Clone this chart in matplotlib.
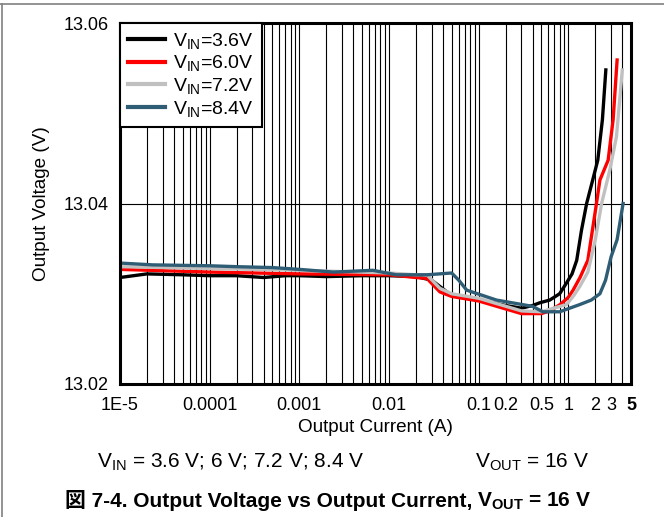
import matplotlib
matplotlib.use("Agg")
import matplotlib.pyplot as plt
from matplotlib.lines import Line2D
from matplotlib.ticker import LogLocator, NullFormatter

plt.rcParams["font.family"] = ["Liberation Sans", "Noto Sans CJK JP", "DejaVu Sans"]
plt.rcParams["mathtext.fontset"] = "custom"
plt.rcParams["mathtext.rm"] = "Liberation Sans"
plt.rcParams["mathtext.bf"] = "Liberation Sans:bold"

# values
i_36 = [1e-5, 2e-5, 5e-5, 1e-4, 2e-4, 4e-4, 7e-4, 1e-3, 2e-3, 5e-3, 0.01, 0.02, 0.03,
        0.05, 0.1, 0.2, 0.3, 0.4, 0.48, 0.62, 0.8, 0.955, 1.1, 1.24, 1.4, 1.6, 1.87,
        2.13, 2.4, 2.62]
v_36 = [13.0318, 13.0322, 13.0321, 13.0320, 13.0320, 13.0318, 13.0320, 13.0320, 13.0319,
        13.0320, 13.0320, 13.0319, 13.0315, 13.0298, 13.0293, 13.0287, 13.0284, 13.0287,
        13.0290, 13.0293, 13.0300, 13.0312, 13.0322, 13.0337, 13.0370, 13.0400, 13.0426,
        13.0448, 13.0493, 13.0548]

i_60 = [1e-5, 1e-4, 1e-3, 0.01, 0.02, 0.0265, 0.037, 0.05, 0.1, 0.16, 0.3, 0.5, 0.62,
        0.81, 1.0, 1.13, 1.35, 1.65, 2.06, 2.25, 2.78, 3.16, 3.5]
v_60 = [13.0327, 13.0324, 13.0322, 13.0321, 13.0318, 13.0317, 13.0302, 13.0297, 13.0292,
        13.0286, 13.0278, 13.0278, 13.0281, 13.0288, 13.0296, 13.0304, 13.0318, 13.0337,
        13.0400, 13.0426, 13.0448, 13.0493, 13.0559]

i_72 = [1e-5, 1e-4, 1e-3, 0.01, 0.02, 0.0265, 0.037, 0.05, 0.1, 0.16, 0.3, 0.5, 0.81,
        0.955, 1.15, 1.34, 1.65, 2.0, 2.35, 2.9, 3.44, 4.0]
v_72 = [13.0330, 13.0328, 13.0326, 13.0323, 13.0321, 13.0321, 13.0306, 13.0300, 13.0295,
        13.0289, 13.0281, 13.0280, 13.0286, 13.0288, 13.0298, 13.0308, 13.0324, 13.0360,
        13.0400, 13.0437, 13.0474, 13.0548]

i_84 = [1e-5, 2.3e-5, 1e-4, 2e-4, 5e-4, 1e-3, 2.4e-3, 6.6e-3, 0.012, 0.0265, 0.05, 0.06,
        0.0735, 0.158, 0.4, 0.52, 0.8, 1.34, 1.8, 2.25, 2.6, 3.0, 3.5, 4.08]
v_84 = [13.0334, 13.0332, 13.0331, 13.0330, 13.0329, 13.0327, 13.0324, 13.0326, 13.0321,
        13.0321, 13.0323, 13.0315, 13.0304, 13.0293, 13.0286, 13.0280, 13.0280, 13.0288,
        13.0293, 13.0300, 13.0315, 13.0341, 13.0360, 13.0400]

labels = [r"$\mathregular{V_{IN}}$=3.6V", r"$\mathregular{V_{IN}}$=6.0V",
          r"$\mathregular{V_{IN}}$=7.2V", r"$\mathregular{V_{IN}}$=8.4V"]
colors = ["black", "#ff0000", "#c0c0c0", "#2e5d75"]

x_ticks = [1e-5, 1e-4, 1e-3, 0.01, 0.1, 0.2, 0.5, 1, 2, 3, 5]
x_tick_labels = ["1E-5", "0.0001", "0.001", "0.01", "0.1", "0.2", "0.5", "1", "2", "3", "5"]
y_ticks = [13.02, 13.04, 13.06]

fig = plt.figure(figsize=(6.64, 5.17), dpi=100)
ax = fig.add_axes([120 / 664, 1 - 384 / 517, 511 / 664, 361 / 517])

series = [(i_36, v_36), (i_60, v_60), (i_72, v_72), (i_84, v_84)]
for (xs, ys), lab, col in zip(series, labels, colors):
    ax.plot(xs, ys, color=col, lw=2.4, label=lab, solid_joinstyle="round")

ax.set_xscale("log")
ax.set_xlim(1e-5, 5)
ax.set_ylim(13.02, 13.06)
ax.xaxis.set_minor_locator(LogLocator(base=10, subs=range(2, 10), numticks=20))
ax.xaxis.set_minor_formatter(NullFormatter())
ax.set_xticks(x_ticks)
ax.set_xticklabels(x_tick_labels)
ax.get_xticklabels()[-1].set_fontweight("bold")
ax.set_yticks(y_ticks)
ax.set_yticklabels(["%.2f" % v for v in y_ticks])
ax.tick_params(axis="both", which="both", length=0, labelsize=13)
ax.tick_params(axis="x", pad=9)
ax.tick_params(axis="y", pad=8)
ax.grid(True, which="both", axis="x", color="black", lw=0.8)
ax.grid(True, which="major", axis="y", color="black", lw=0.8)
ax.set_axisbelow(True)
for sp in ax.spines.values():
    sp.set_linewidth(2.2)

ax.set_xlabel("Output Current (A)", fontsize=13.6, labelpad=4)
ax.set_ylabel("Output Voltage (V)", fontsize=13.6, labelpad=10)

leg = ax.legend(loc="upper left", borderaxespad=0, fontsize=14, fancybox=False,
                framealpha=1, edgecolor="black", handlelength=1.9, handletextpad=0.45,
                labelspacing=0.14, borderpad=0.4)
leg.get_frame().set_linewidth(1.5)
for h in leg.get_lines():
    h.set_linewidth(3)

fig.text(97 / 664, 1 - 462 / 517, r"$\mathregular{V_{IN}}$ = 3.6 V; 6 V; 7.2 V; 8.4 V",
         fontsize=15, va="center")
fig.text(475 / 664, 1 - 462 / 517, r"$\mathregular{V_{OUT}}$ = 16 V", fontsize=15, va="center")

# caption: CJK part and the mathtext part are separate texts
cap_y = 1 - 507 / 517
t1 = fig.text(65 / 664, cap_y, "図 7-4. Output Voltage vs Output Current,", fontsize=15,
              fontweight="bold", va="baseline")
fig.canvas.draw()
x1 = t1.get_window_extent().x1
fig.text((x1 + 5) / 664, cap_y, r"$\mathbf{V_{OUT}}$ = 16 V", fontsize=15,
         fontweight="bold", va="baseline")

# outer frame of the datasheet figure
fig.add_artist(Line2D([0, 1], [1 - 4 / 517, 1 - 4 / 517], transform=fig.transFigure,
                      color="#808080", lw=1.2))
fig.add_artist(Line2D([1.5 / 664, 1.5 / 664], [0, 1 - 4 / 517], transform=fig.transFigure,
                      color="#808080", lw=1.2))

fig.savefig("out.png", dpi=100)
